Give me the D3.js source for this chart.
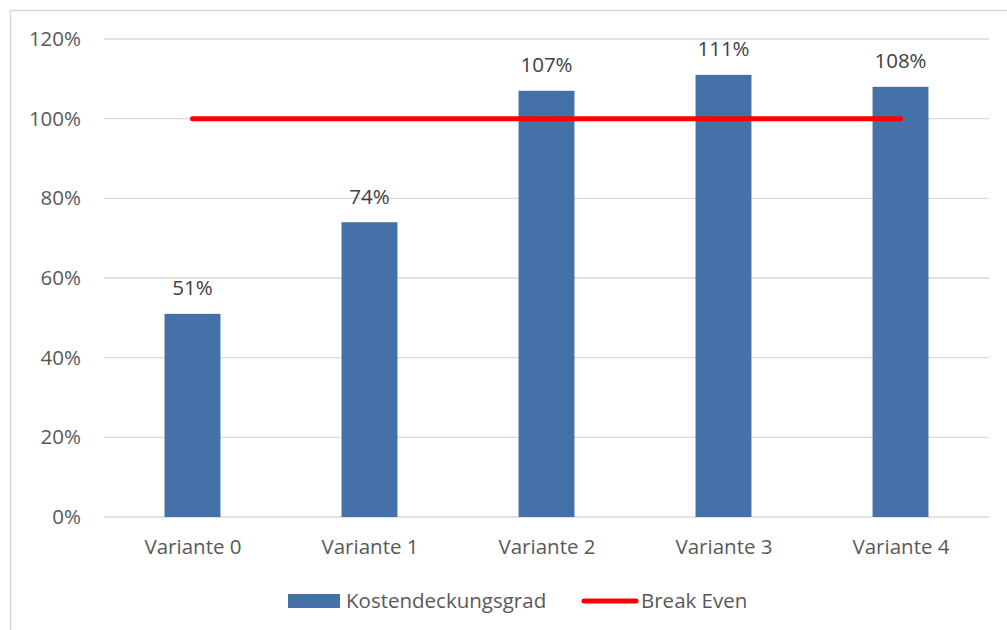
<!DOCTYPE html>
<html>
<head>
<meta charset="utf-8">
<script src="https://cdn.jsdelivr.net/npm/d3@7"></script>
<style>
  body { margin: 0; background: #fff; }
  text { font-family: "Open Sans", sans-serif; }
</style>
</head>
<body>
<script>
var categories = ["Variante 0", "Variante 1", "Variante 2", "Variante 3", "Variante 4"]
var kostendeckung = [0.51, 0.74, 1.07, 1.11, 1.08]
var breakEven = [1, 1, 1, 1, 1]
var yTicks = [0, 0.2, 0.4, 0.6, 0.8, 1.0, 1.2]
var seriesNames = ["Kostendeckungsgrad", "Break Even"]

var W = 1007, H = 630
var fontSize = "20.5px"
var svg = d3.select("body").append("svg")
  .attr("width", W)
  .attr("height", H)

// chart frame
svg.append("rect")
  .attr("x", 10.5).attr("y", 10.5)
  .attr("width", 1010).attr("height", 640)
  .attr("fill", "none")
  .attr("stroke", "#d9d9d9")
  .attr("stroke-width", 1.5)

var plotLeft = 104, plotRight = 989, plotTop = 39, plotBottom = 517

var x = d3.scaleBand()
  .domain(categories)
  .range([plotLeft, plotRight])
  .paddingInner(0.684)
  .paddingOuter(0.342)

var xc = d3.scalePoint()
  .domain(categories)
  .range([plotLeft, plotRight])
  .padding(0.5)

var y = d3.scaleLinear()
  .domain([0, 1.2])
  .range([plotBottom, plotTop])

// gridlines
svg.append("g")
  .selectAll("line")
  .data(yTicks)
  .enter().append("line")
  .attr("x1", plotLeft).attr("x2", plotRight)
  .attr("y1", function(d) { return y(d) }).attr("y2", function(d) { return y(d) })
  .attr("stroke", "#d9d9d9")
  .attr("stroke-width", 1.3)

// y axis labels
var yAxis = d3.axisLeft(y)
  .tickValues(yTicks)
  .tickFormat(d3.format(".0%"))
  .tickSize(0)
  .tickPadding(23)

svg.append("g")
  .attr("transform", "translate(" + plotLeft + ",0)")
  .call(yAxis)
  .call(function(g) { g.select(".domain").remove() })
  .selectAll("text")
  .attr("fill", "#595959")
  .style("font-size", fontSize)
  .style("font-family", "'Open Sans', sans-serif")

// x axis labels
var xAxis = d3.axisBottom(xc).tickSize(0).tickPadding(22)
svg.append("g")
  .attr("transform", "translate(0," + plotBottom + ")")
  .call(xAxis)
  .call(function(g) { g.select(".domain").remove() })
  .selectAll("text")
  .attr("fill", "#595959")
  .style("font-size", fontSize)
  .style("font-family", "'Open Sans', sans-serif")

// bars
svg.append("g")
  .selectAll("rect")
  .data(kostendeckung)
  .enter().append("rect")
  .attr("x", function(d, i) { return x(categories[i]) })
  .attr("y", function(d) { return y(d) })
  .attr("width", x.bandwidth())
  .attr("height", function(d) { return plotBottom - y(d) })
  .attr("fill", "#4472a8")

// value labels
svg.append("g")
  .selectAll("text")
  .data(kostendeckung)
  .enter().append("text")
  .attr("x", function(d, i) { return xc(categories[i]) })
  .attr("y", function(d) { return y(d) - 18.5 })
  .attr("text-anchor", "middle")
  .attr("fill", "#404040")
  .style("font-size", fontSize)
  .text(function(d) { return Math.round(d * 100) + "%" })

// break even line
var line = d3.line()
  .x(function(d, i) { return xc(categories[i]) })
  .y(function(d) { return y(d) })

svg.append("path")
  .datum(breakEven)
  .attr("d", line)
  .attr("fill", "none")
  .attr("stroke", "#ff0000")
  .attr("stroke-width", 5)
  .attr("stroke-linecap", "round")

// legend
var lg = svg.append("g").attr("transform", "translate(0,601)")
lg.append("rect")
  .attr("x", 288).attr("y", -7)
  .attr("width", 52).attr("height", 14)
  .attr("fill", "#4472a8")
lg.append("text")
  .attr("x", 346).attr("y", 7)
  .attr("fill", "#595959")
  .style("font-size", fontSize)
  .text(seriesNames[0])
lg.append("line")
  .attr("x1", 584).attr("x2", 636)
  .attr("y1", 0).attr("y2", 0)
  .attr("stroke", "#ff0000")
  .attr("stroke-width", 5)
  .attr("stroke-linecap", "round")
lg.append("text")
  .attr("x", 641).attr("y", 7)
  .attr("fill", "#595959")
  .style("font-size", fontSize)
  .text(seriesNames[1])
</script>
</body>
</html>
